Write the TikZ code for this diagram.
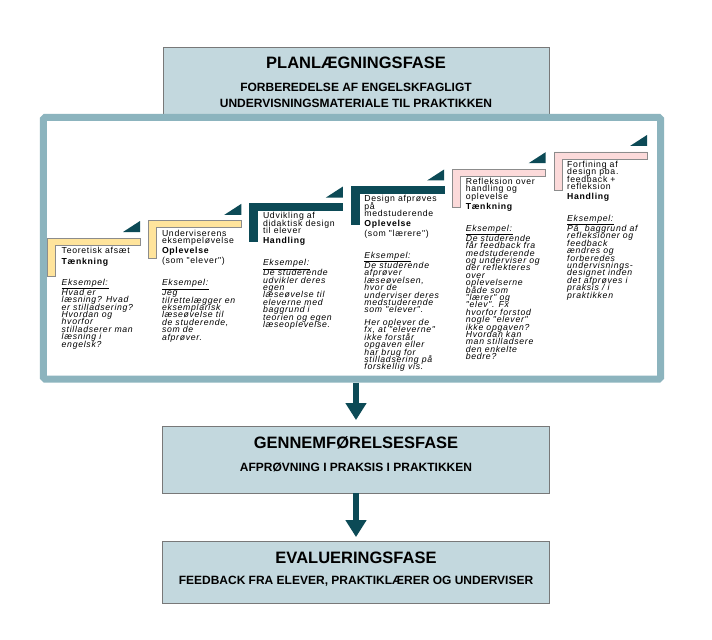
\documentclass[tikz,border=0pt]{standalone}
\usepackage{fontspec}
\setmainfont{Liberation Sans}
\newfontfamily\stepfont[LetterSpace=8]{Liberation Sans}
\usetikzlibrary{arrows.meta}
\definecolor{boxfill}{RGB}{195,216,222}
\definecolor{boxline}{RGB}{120,120,120}
\definecolor{framecol}{RGB}{140,180,190}
\definecolor{darkteal}{RGB}{12,74,86}
\definecolor{stepyellow}{RGB}{255,228,156}
\definecolor{steppink}{RGB}{252,218,218}
\definecolor{outlinegray}{RGB}{140,140,140}
\newcommand\stepsetup{\stepfont\fontsize{8.7bp}{7.4bp}\selectfont\lineskiplimit=-100pt\lineskip=0pt\relax}
\newcommand\stepL[4]{%
  \filldraw[fill=#3,draw=#4,line width=0.8bp] (#1,#2) -- (#1+93,#2) -- (#1+93,#2+7) -- (#1+8,#2+7) -- (#1+8,#2+38) -- (#1,#2+38) -- cycle;
  \fill[darkteal] (#1+76,#2-6) -- (#1+93,#2-6) -- (#1+93,#2-17) -- cycle;}
\begin{document}
\begin{tikzpicture}[x=1bp,y=-1bp,
  phasebox/.style={draw=boxline, line width=0.8bp, fill=boxfill, inner sep=0pt},
  phasetitle/.style={anchor=base, inner sep=0pt, font=\bfseries\fontsize{16.5bp}{18bp}\selectfont},
  phasesub/.style={anchor=base, inner sep=0pt, font=\bfseries\fontsize{12bp}{14bp}\selectfont},
  flow/.style={draw=darkteal, line width=6bp, -{Triangle[width=20bp,length=17bp]}},
  bigframe/.style={draw=framecol, line width=7bp, inner sep=0pt, rounded corners=1.5bp},
  steptext/.style={anchor=north west, inner sep=0pt, align=left, font=\stepsetup}]
\useasboundingbox[fill=white] (0,0) rectangle (712,640);

% planning box
\node[phasebox, minimum width=386bp, minimum height=67bp] (plan) at (356,80.5) {};
\node[phasetitle] (planT) at (356,68.7) {PLANLÆGNINGSFASE};
\node[phasesub] (planS1) at (356,91.3) {FORBEREDELSE AF ENGELSKFAGLIGT};
\node[phasesub] (planS2) at (356,107.3) {UNDERVISNINGSMATERIALE TIL PRAKTIKKEN};

% frame
\node[bigframe, minimum width=617bp, minimum height=261.5bp] (frame) at (352,248.25) {};

% steps
\stepL{47}{238}{stepyellow}{outlinegray}
\stepL{148.4}{220.8}{stepyellow}{outlinegray}
\stepL{249.8}{203.6}{darkteal}{darkteal}
\stepL{351.2}{186.4}{darkteal}{darkteal}
\stepL{452.6}{169.2}{steppink}{outlinegray}
\stepL{554}{152}{steppink}{outlinegray}

\node[steptext] (s1) at (61.5,246.5) {\rule{0pt}{7bp}Teoretisk afsæt\\[3.4bp]
\textbf{Tænkning}\\[13.4bp]
\underline{\textit{Eksempel:}}\\[2.6bp]
\textit{Hvad er}\\
\textit{læsning? Hvad}\\
\textit{er stilladsering?}\\
\textit{Hvordan og}\\
\textit{hvorfor}\\
\textit{stilladserer man}\\
\textit{læsning i}\\
\textit{engelsk?}};

\node[steptext] (s2) at (161.8,229) {\rule{0pt}{7bp}Underviserens\\
eksempeløvelse\\[2.6bp]
\textbf{Oplevelse}\\[2.6bp]
(som "elever")\\[14.6bp]
\underline{\textit{Eksempel:}}\\[2.6bp]
\textit{Jeg}\\
\textit{tilrettelægger en}\\
\textit{eksemplarisk}\\
\textit{læseøvelse til}\\
\textit{de studerende,}\\
\textit{som de}\\
\textit{afprøver.}};

\node[steptext] (s3) at (262.8,211.6) {\rule{0pt}{7bp}Udvikling af\\
didaktisk design\\
til elever\\[2.6bp]
\textbf{Handling}\\[14.6bp]
\underline{\textit{Eksempel:}}\\[2.6bp]
\textit{De studerende}\\
\textit{udvikler deres}\\
\textit{egen}\\
\textit{læseøvelse til}\\
\textit{eleverne med}\\
\textit{baggrund i}\\
\textit{teorien og egen}\\
\textit{læseoplevelse.}};

\node[steptext] (s4) at (364.2,194.4) {\rule{0pt}{7bp}Design afprøves\\
på\\
medstuderende\\[2.6bp]
\textbf{Oplevelse}\\[2.6bp]
(som "lærere")\\[14.6bp]
\underline{\textit{Eksempel:}}\\[2.6bp]
\textit{De studerende}\\
\textit{afprøver}\\
\textit{læseøvelsen,}\\
\textit{hvor de}\\
\textit{underviser deres}\\
\textit{medstuderende}\\
\textit{som "elever".}\\[5.2bp]
\textit{Her oplever de}\\
\textit{fx, at "eleverne"}\\
\textit{ikke forstår}\\
\textit{opgaven eller}\\
\textit{har brug for}\\
\textit{stilladsering på}\\
\textit{forskellig vis.}};

\node[steptext] (s5) at (465.6,177.2) {\rule{0pt}{7bp}Refleksion over\\
handling og\\
oplevelse\\[2.6bp]
\textbf{Tænkning}\\[14.6bp]
\underline{\textit{Eksempel:}}\\[2.6bp]
\textit{De studerende}\\
\textit{får feedback fra}\\
\textit{medstuderende}\\
\textit{og underviser og}\\
\textit{der reflekteres}\\
\textit{over}\\
\textit{oplevelserne}\\
\textit{både som}\\
\textit{"lærer" og}\\
\textit{"elev". Fx}\\
\textit{hvorfor forstod}\\
\textit{nogle "elever"}\\
\textit{ikke opgaven?}\\
\textit{Hvordan kan}\\
\textit{man stilladsere}\\
\textit{den enkelte}\\
\textit{bedre?}};

\node[steptext] (s6) at (567,160) {\rule{0pt}{7bp}Forfining af\\
design pba.\\
feedback +\\
refleksion\\[2.6bp]
\textbf{Handling}\\[14.6bp]
\underline{\textit{Eksempel:}}\\[2.6bp]
\textit{På~ baggrund af}\\
\textit{refleksioner og}\\
\textit{feedback}\\
\textit{ændres og}\\
\textit{forberedes}\\
\textit{undervisnings-}\\
\textit{designet inden}\\
\textit{det afprøves i}\\
\textit{praksis / i}\\
\textit{praktikken}};

% implementation box
\node[phasebox, minimum width=387bp, minimum height=67bp] (gennem) at (356,459.5) {};
\node[phasetitle] (gennemT) at (356,448) {GENNEMFØRELSESFASE};
\node[phasesub] (gennemS) at (356,471.3) {AFPRØVNING I PRAKSIS I PRAKTIKKEN};

% evaluation box
\node[phasebox, minimum width=387bp, minimum height=62bp] (eval) at (356,572) {};
\node[phasetitle] (evalT) at (356,563) {EVALUERINGSFASE};
\node[phasesub] (evalS) at (356,584.3) {FEEDBACK FRA ELEVER, PRAKTIKLÆRER OG UNDERVISER};

% arrows
\draw[flow, shorten >=5.5bp] (frame.south -| gennem.north) -- (gennem.north);
\draw[flow, shorten >=3.5bp] (gennem.south) -- (eval.north);
\end{tikzpicture}
\end{document}
